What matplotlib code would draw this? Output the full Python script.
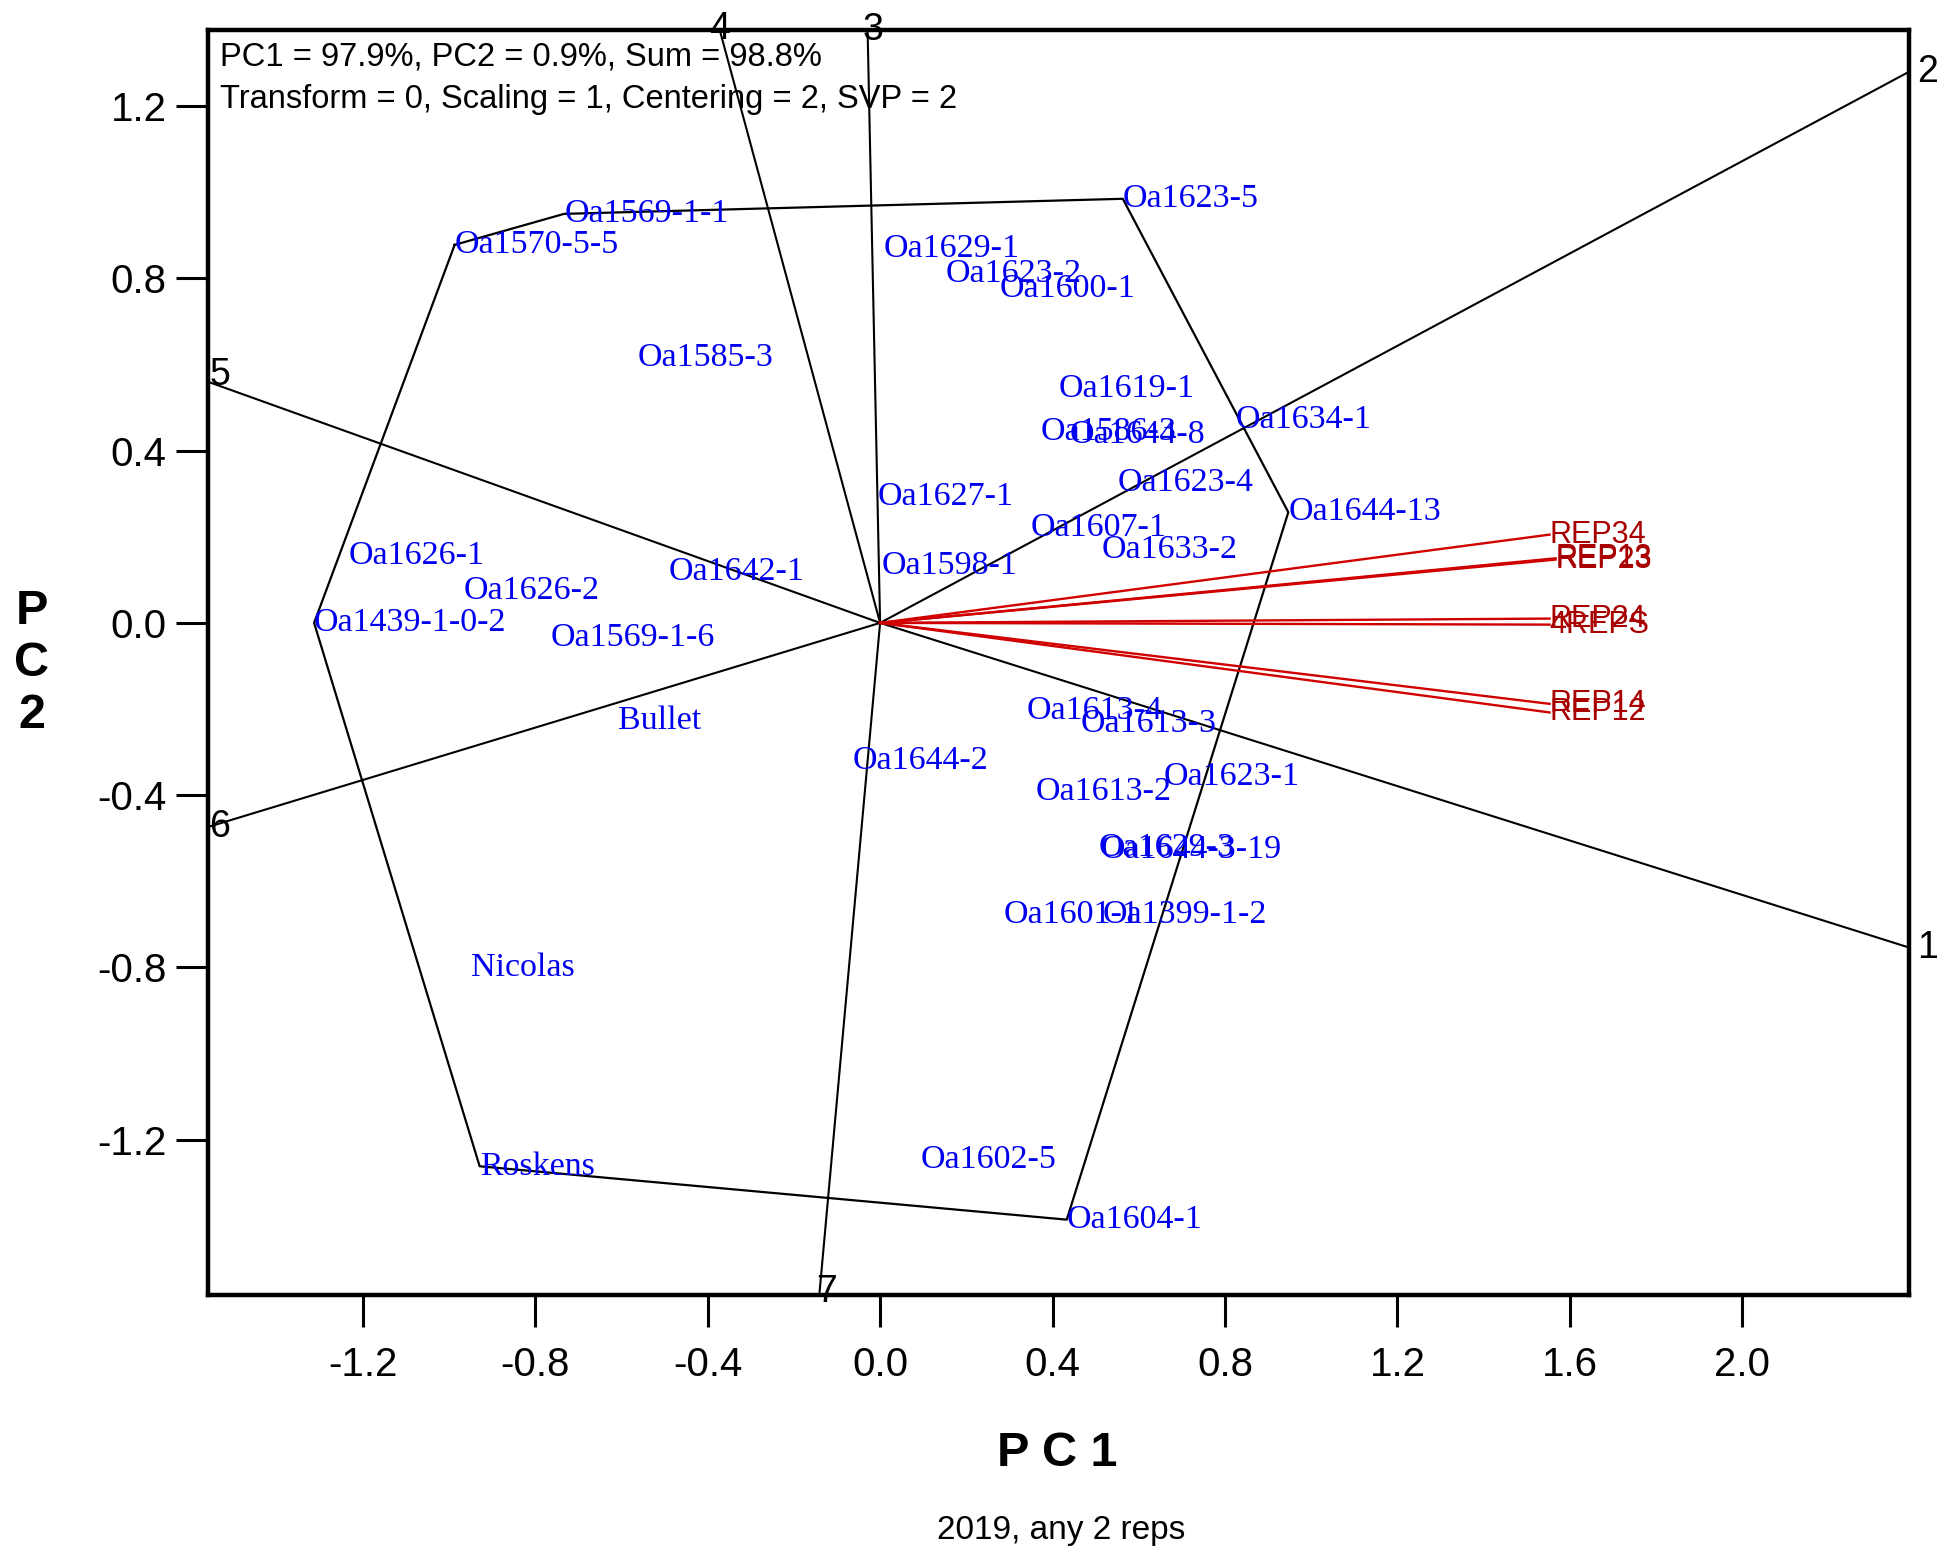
import matplotlib
matplotlib.use("Agg")
from matplotlib import pyplot as plt

plt.rcParams['font.family'] = ['Liberation Sans', 'DejaVu Sans']
plt.rcParams['axes.unicode_minus'] = False

# genotype scores (PC1, PC2)
gen_names = ['Oa1569-1-1', 'Oa1570-5-5', 'Oa1623-5', 'Oa1629-1', 'Oa1623-2', 'Oa1600-1',
             'Oa1585-3', 'Oa1619-1', 'Oa1634-1', 'Oa1586-3', 'Oa1644-8', 'Oa1623-4',
             'Oa1627-1', 'Oa1644-13', 'Oa1607-1', 'Oa1633-2', 'Oa1598-1', 'Oa1626-1',
             'Oa1626-2', 'Oa1642-1', 'Oa1439-1-0-2', 'Oa1569-1-6', 'Bullet', 'Oa1613-4',
             'Oa1613-3', 'Oa1644-2', 'Oa1623-1', 'Oa1613-2', 'Oa1629-3', 'Oa1644-3-19',
             'Oa1601-1', 'Oa1399-1-2', 'Nicolas', 'Roskens', 'Oa1602-5', 'Oa1604-1']
gen_x = [-0.733, -0.987, 0.563, 0.009, 0.153, 0.277,
         -0.563, 0.413, 0.825, 0.372, 0.440, 0.551,
         -0.006, 0.947, 0.349, 0.514, 0.003, -1.232,
         -0.967, -0.491, -1.313, -0.765, -0.609, 0.341,
         0.465, -0.063, 0.658, 0.361, 0.508, 0.512,
         0.286, 0.517, -0.950, -0.929, 0.095, 0.433]
gen_y = [0.950, 0.878, 0.985, 0.869, 0.812, 0.777,
         0.615, 0.543, 0.471, 0.445, 0.437, 0.326,
         0.292, 0.257, 0.220, 0.170, 0.133, 0.156,
         0.075, 0.118, 0.000, -0.035, -0.228, -0.205,
         -0.234, -0.321, -0.358, -0.393, -0.523, -0.526,
         -0.679, -0.679, -0.800, -1.262, -1.248, -1.386]

# polygon vertices (genotypes on the hull)
hull = ['Oa1570-5-5', 'Oa1569-1-1', 'Oa1623-5', 'Oa1644-13', 'Oa1604-1', 'Roskens', 'Oa1439-1-0-2']

# environment vectors
env_names = ['REP34', 'REP13', 'REP23', 'REP24', '4REPS', 'REP14', 'REP12']
env_x = [1.553, 1.567, 1.567, 1.553, 1.553, 1.553, 1.553]
env_y = [0.205, 0.150, 0.147, 0.010, -0.004, -0.188, -0.208]

# sector rays (perpendiculars to polygon sides)
ray_names = ['1', '2', '3', '4', '5', '6', '7']
ray_x = [2.387, 2.387, -0.029, -0.372, -1.559, -1.559, -0.141]
ray_y = [-0.754, 1.280, 1.377, 1.377, 0.560, -0.474, -1.561]

xticks = [-1.2, -0.8, -0.4, 0.0, 0.4, 0.8, 1.2, 1.6, 2.0]
yticks = [-1.2, -0.8, -0.4, 0.0, 0.4, 0.8, 1.2]

fig = plt.figure(figsize=(19.5, 15.55), dpi=100)
ax = fig.add_axes([0.1067, 0.1672, 0.9790 - 0.1067, 0.9807 - 0.1672])
ax.set_xlim(-1.559, 2.387)
ax.set_ylim(-1.561, 1.377)

# polygon
px = [gen_x[gen_names.index(n)] for n in hull] + [gen_x[gen_names.index(hull[0])]]
py = [gen_y[gen_names.index(n)] for n in hull] + [gen_y[gen_names.index(hull[0])]]
ax.plot(px, py, color='black', lw=1.6, zorder=2)

# rays and their numbers
offs = {'1': (6, 0, 'left'), '2': (6, 0, 'left'), '3': (4, 0, 'center'), '4': (0, 1, 'center'),
        '5': (1, 5, 'left'), '6': (1, 0, 'left'), '7': (-2, 2, 'left')}
for n, x, y in zip(ray_names, ray_x, ray_y):
    ax.plot([0, x], [0, y], color='black', lw=1.5, zorder=2)
    dx, dy, ha = offs[n]
    ax.annotate(n, (x, y), xytext=(dx, dy), textcoords='offset points', ha=ha, va='center',
                fontsize=27, color='black', annotation_clip=False, zorder=5)

# environment vectors
for n, x, y in zip(env_names, env_x, env_y):
    ax.plot([0, x], [0, y], color='#D00000', lw=1.7, zorder=3)
    ax.text(x, y, n, ha='left', va='center', fontsize=22, color='#A80000', zorder=4)

# genotype labels
for n, x, y in zip(gen_names, gen_x, gen_y):
    ax.text(x, y, n, ha='left', va='center', fontsize=24.5, color='#0000EE',
            family=['Liberation Serif', 'DejaVu Serif'], zorder=4)

ax.text(0.007, 0.979, 'PC1 = 97.9%, PC2 = 0.9%, Sum = 98.8%', transform=ax.transAxes,
        ha='left', va='center', fontsize=23.5)
ax.text(0.007, 0.945, 'Transform = 0, Scaling = 1, Centering = 2, SVP = 2', transform=ax.transAxes,
        ha='left', va='center', fontsize=23.5)

ax.set_xticks(xticks)
ax.set_yticks(yticks)
ax.set_xticklabels(['%.1f' % t for t in xticks])
ax.set_yticklabels(['%.1f' % t for t in yticks])
ax.tick_params(axis='both', direction='out', length=23, width=2.2, labelsize=29, color='black')
ax.tick_params(axis='x', pad=14)
ax.tick_params(axis='y', pad=7)
for s in ax.spines.values():
    s.set_linewidth(3.2)

fig.text(1057 / 1950, 1 - 1453 / 1555, 'P C 1', ha='center', va='center', fontsize=35, fontweight='bold')
fig.text(32 / 1950, 1 - 663 / 1555, 'P\nC\n2', ha='center', va='center', fontsize=35,
         fontweight='bold', linespacing=1.2)
fig.text(1061 / 1950, 1 - 1530 / 1555, '2019, any 2 reps', ha='center', va='center', fontsize=24)

fig.savefig('out.png', dpi=100, facecolor='white')
